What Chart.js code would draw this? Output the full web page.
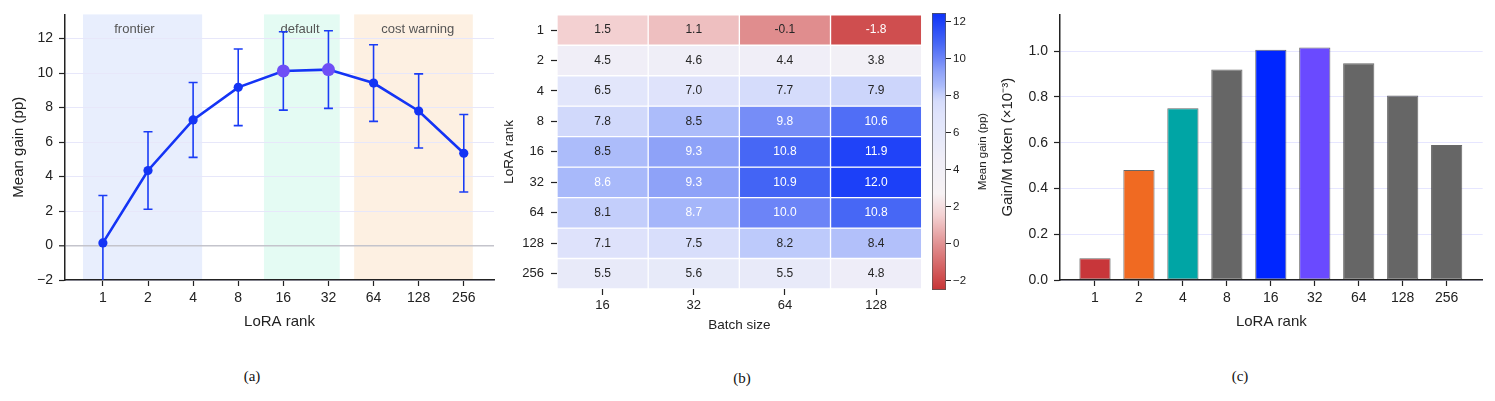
<!DOCTYPE html>
<html>
<head>
<meta charset="utf-8">
<script src="https://cdn.jsdelivr.net/npm/chart.js@4.4.0/dist/chart.umd.min.js"></script>
<style>
  body { margin: 0; background: #fff; width: 1495px; height: 401px; position: relative; overflow: hidden; }
  canvas { position: absolute; top: 0; }
  .cap { position: absolute; top: 368px; font-family: "Liberation Serif", "DejaVu Serif", serif; font-size: 15px; color: #111; transform: translateX(-50%); }
</style>
</head>
<body>
<canvas id="gainChart" width="500" height="345" style="left:0"></canvas>
<canvas id="heatChart" width="440" height="345" style="left:490px"></canvas>
<canvas id="cbarChart" width="70" height="345" style="left:925px"></canvas>
<canvas id="effChart" width="505" height="345" style="left:990px"></canvas>
<div class="cap" style="left:252px">(a)</div>
<div class="cap" style="left:742px;top:370px">(b)</div>
<div class="cap" style="left:1240px">(c)</div>

<script>
// (a) mean gain vs LoRA rank
const rankLabels = ['1', '2', '4', '8', '16', '32', '64', '128', '256'];
const meanGain = [0.15, 4.35, 7.28, 9.17, 10.12, 10.2, 9.42, 7.8, 5.35];
const gainErr = [2.75, 2.25, 2.17, 2.22, 2.27, 2.25, 2.22, 2.15, 2.25];
const highlightRanks = ['16', '32'];
const gainTicks = [-2, 0, 2, 4, 6, 8, 10, 12];

// shaded regions, in rank-index units
const regionNames = ['frontier', 'default', 'cost warning'];
const regionStart = [-0.44, 3.57, 5.57];
const regionEnd = [2.2, 5.25, 8.2];
const regionLabelX = [0.7, 4.37, 6.98];
const regionColors = ['#e8eefd', '#e4fbf3', '#fdf0e2'];

// (b) heatmap: rows = LoRA rank, cols = batch size
const batchSizes = ['16', '32', '64', '128'];
const heatRanks = ['1', '2', '4', '8', '16', '32', '64', '128', '256'];
const heatRows = [
  [1.5, 1.1, -0.1, -1.8],
  [4.5, 4.6, 4.4, 3.8],
  [6.5, 7.0, 7.7, 7.9],
  [7.8, 8.5, 9.8, 10.6],
  [8.5, 9.3, 10.8, 11.9],
  [8.6, 9.3, 10.9, 12.0],
  [8.1, 8.7, 10.0, 10.8],
  [7.1, 7.5, 8.2, 8.4],
  [5.5, 5.6, 5.5, 4.8]
];
const cbarMin = -2.49;
const cbarMax = 12.45;
const cbarTicks = [-2, 0, 2, 4, 6, 8, 10, 12];

// (c) gain per M token
const gainPerMTok = [0.095, 0.481, 0.751, 0.92, 1.007, 1.016, 0.948, 0.806, 0.59];
const effTicks = [0, 0.2, 0.4, 0.6, 0.8, 1.0];
const barColors = ['#c8363a', '#f06a22', '#00a5a5', '#666666', '#0026ff', '#6a4aff', '#666666', '#666666', '#666666'];

const FONT = '"Liberation Sans", Arial, sans-serif';
const INK = '#222';
const GRID = '#e7e7fa';

// red - white - blue colormap, sampled from the figure
const cmapStops = [
  [-2.5, [199, 52, 54]], [-1.8, [207, 78, 79]], [-0.1, [224, 141, 142]],
  [1.1, [238, 191, 192]], [1.5, [243, 208, 209]], [2.7, [247, 242, 244]],
  [3.8, [242, 240, 246]], [4.5, [240, 238, 247]], [5.5, [232, 234, 249]],
  [6.5, [226, 230, 251]], [7.0, [223, 227, 251]], [7.7, [213, 220, 251]],
  [8.1, [195, 206, 251]], [8.5, [172, 188, 250]], [9.3, [142, 162, 248]],
  [10.0, [108, 132, 247]], [10.8, [71, 103, 245]], [12.0, [28, 64, 248]],
  [12.45, [14, 50, 250]]
];
function cmap(v) {
  if (v <= cmapStops[0][0]) return 'rgb(' + cmapStops[0][1].join(',') + ')';
  for (let i = 1; i < cmapStops.length; i++) {
    const [v1, c1] = cmapStops[i];
    const [v0, c0] = cmapStops[i - 1];
    if (v <= v1) {
      const t = (v - v0) / (v1 - v0);
      return 'rgb(' + c0.map((c, k) => Math.round(c + (c1[k] - c) * t)).join(',') + ')';
    }
  }
  return 'rgb(' + cmapStops[cmapStops.length - 1][1].join(',') + ')';
}

Chart.defaults.font.family = FONT;
Chart.defaults.color = INK;

// ---------- (a) ----------
const bandPlugin = {
  id: 'bands',
  beforeDraw(chart) {
    const { ctx, chartArea: a, scales: { x, y } } = chart;
    ctx.save();
    regionNames.forEach((name, i) => {
      const x0 = x.getPixelForValue(regionStart[i]);
      const x1 = x.getPixelForValue(regionEnd[i]);
      ctx.fillStyle = regionColors[i];
      ctx.fillRect(x0, a.top, x1 - x0, a.bottom - a.top);
      ctx.fillStyle = '#555';
      ctx.font = '13px ' + FONT;
      ctx.textAlign = 'center';
      ctx.textBaseline = 'middle';
      ctx.fillText(name, x.getPixelForValue(regionLabelX[i]), y.getPixelForValue(12.55));
    });
    ctx.restore();
  }
};

const errorBarPlugin = {
  id: 'errorBars',
  beforeDatasetsDraw(chart) {
    const { ctx, chartArea: a, scales: { x, y } } = chart;
    ctx.save();
    ctx.beginPath();
    ctx.rect(a.left, a.top, a.right - a.left, a.bottom - a.top);
    ctx.clip();
    ctx.strokeStyle = '#1a3cf5';
    ctx.lineWidth = 1.6;
    meanGain.forEach((m, i) => {
      const px = x.getPixelForValue(i);
      const top = y.getPixelForValue(m + gainErr[i]);
      const bot = y.getPixelForValue(m - gainErr[i]);
      ctx.beginPath();
      ctx.moveTo(px, top); ctx.lineTo(px, bot);
      ctx.moveTo(px - 4.5, top); ctx.lineTo(px + 4.5, top);
      ctx.moveTo(px - 4.5, bot); ctx.lineTo(px + 4.5, bot);
      ctx.stroke();
    });
    ctx.restore();
  }
};

new Chart(document.getElementById('gainChart'), {
  type: 'line',
  data: {
    datasets: [{
      data: meanGain.map((v, i) => ({ x: i, y: v })),
      borderColor: '#1434f5',
      borderWidth: 2.6,
      tension: 0,
      pointRadius: rankLabels.map(r => highlightRanks.includes(r) ? 6.5 : 4.6),
      pointBackgroundColor: rankLabels.map(r => highlightRanks.includes(r) ? '#6e4ff6' : '#1434f5'),
      pointBorderWidth: 0
    }]
  },
  options: {
    responsive: false,
    animation: false,
    events: [],
    layout: { padding: { top: 13, right: 6, left: 0, bottom: 0 } },
    plugins: { legend: { display: false }, tooltip: { enabled: false } },
    scales: {
      x: {
        type: 'linear', min: -0.84, max: 8.67,
        afterBuildTicks: s => { s.ticks = rankLabels.map((_, i) => ({ value: i })); },
        afterFit: s => { s.height = 65; },
        ticks: { callback: v => rankLabels[v], font: { size: 14 }, color: INK, padding: 4, maxRotation: 0 },
        grid: { drawOnChartArea: false, tickLength: 6, tickColor: INK, tickWidth: 1.2 },
        border: { color: INK, width: 1.5 },
        title: { display: true, text: 'LoRA rank', font: { size: 15 }, color: INK, padding: { top: 0, bottom: 14 } }
      },
      y: {
        min: -2, max: 13.4,
        afterBuildTicks: s => { s.ticks = gainTicks.map(v => ({ value: v })); },
        afterFit: s => { s.width = 65; },
        ticks: { callback: v => String(v).replace('-', '\u2212'), font: { size: 14 }, color: INK, padding: 6 },
        grid: {
          color: c => (c.tick && c.tick.value === 0) ? '#c4c4cc' : GRID,
          lineWidth: c => (c.tick && c.tick.value === 0) ? 1.6 : 1,
          tickLength: 6, tickColor: INK, tickWidth: 1.2
        },
        border: { color: INK, width: 1.5 },
        title: { display: true, text: 'Mean gain (pp)', font: { size: 15 }, color: INK, padding: { top: 10, bottom: 0 } }
      }
    }
  },
  plugins: [bandPlugin, errorBarPlugin]
});

// ---------- (b) ----------
const cellTextPlugin = {
  id: 'cellText',
  afterDatasetsDraw(chart) {
    const { ctx } = chart;
    ctx.save();
    ctx.font = '12px ' + FONT;
    ctx.textAlign = 'center';
    ctx.textBaseline = 'middle';
    heatRows.forEach((row, r) => {
      chart.getDatasetMeta(r).data.forEach((bar, c) => {
        const v = row[c];
        ctx.fillStyle = (v > 8.55 || v < -1) ? '#ffffff' : '#262626';
        ctx.fillText(v.toFixed(1), bar.x, (bar.y + bar.base) / 2);
      });
    });
    ctx.restore();
  }
};

new Chart(document.getElementById('heatChart'), {
  type: 'bar',
  data: {
    labels: batchSizes,
    datasets: heatRows.map((row, r) => ({
      label: 'rank ' + heatRanks[r],
      data: row.map(() => 1),
      backgroundColor: row.map(cmap),
      borderColor: '#ffffff',
      borderWidth: 1,
      borderSkipped: false,
      categoryPercentage: 1,
      barPercentage: 1,
      stack: 'cells'
    }))
  },
  options: {
    responsive: false,
    animation: false,
    events: [],
    layout: { padding: { top: 13, right: 8.3, left: 0, bottom: 0 } },
    plugins: { legend: { display: false }, tooltip: { enabled: false } },
    scales: {
      x: {
        stacked: true,
        afterFit: s => { s.height = 56; },
        ticks: { font: { size: 13 }, color: INK, padding: 3 },
        grid: { offset: false, drawOnChartArea: false, tickLength: 6, tickColor: INK, tickWidth: 1.2 },
        border: { display: false },
        title: { display: true, text: 'Batch size', font: { size: 13.5 }, color: INK, padding: { top: 0, bottom: 12 } }
      },
      y: {
        stacked: true, reverse: true, min: 0, max: 9,
        afterBuildTicks: s => { s.ticks = heatRanks.map((_, i) => ({ value: i + 0.5 })); },
        afterFit: s => { s.width = 67; },
        ticks: { callback: v => heatRanks[Math.floor(v)], font: { size: 13 }, color: INK, padding: 7 },
        grid: { drawOnChartArea: false, tickLength: 6, tickColor: INK, tickWidth: 1.2 },
        border: { display: false },
        title: { display: true, text: 'LoRA rank', font: { size: 13.5 }, color: INK, padding: { top: 11, bottom: 0 } }
      }
    }
  },
  plugins: [cellTextPlugin]
});

// colorbar
const cbarTitlePlugin = {
  id: 'cbarTitle',
  afterDraw(chart) {
    const { ctx, chartArea: a } = chart;
    ctx.save();
    ctx.translate(58, (a.top + a.bottom) / 2);
    ctx.rotate(-Math.PI / 2);
    ctx.font = '11.5px ' + FONT;
    ctx.fillStyle = INK;
    ctx.textAlign = 'center';
    ctx.textBaseline = 'middle';
    ctx.fillText('Mean gain (pp)', 0, 0);
    ctx.restore();
  }
};

new Chart(document.getElementById('cbarChart'), {
  type: 'bar',
  data: {
    labels: [''],
    datasets: [{
      data: [[cbarMin, cbarMax]],
      backgroundColor: c => {
        const chart = c.chart;
        const ys = chart.scales.y;
        if (!chart.chartArea || !ys) return '#ccc';
        const g = chart.ctx.createLinearGradient(0, ys.getPixelForValue(cbarMin), 0, ys.getPixelForValue(cbarMax));
        cmapStops.forEach(([v]) => {
          g.addColorStop(Math.min(1, Math.max(0, (v - cbarMin) / (cbarMax - cbarMin))), cmap(v));
        });
        return g;
      },
      borderColor: '#555',
      borderWidth: 1,
      borderSkipped: false,
      categoryPercentage: 1,
      barPercentage: 1
    }]
  },
  options: {
    responsive: false,
    animation: false,
    events: [],
    layout: { padding: { top: 13, left: 7, right: 0, bottom: 55 } },
    plugins: { legend: { display: false }, tooltip: { enabled: false } },
    scales: {
      x: { display: false },
      y: {
        position: 'right', min: cbarMin, max: cbarMax,
        afterBuildTicks: s => { s.ticks = cbarTicks.map(v => ({ value: v })); },
        afterFit: s => { s.width = 49; },
        ticks: { callback: v => String(v).replace('-', '\u2212'), font: { size: 11.5 }, color: INK, padding: 2 },
        grid: { drawOnChartArea: false, tickLength: 5, tickColor: INK, tickWidth: 1 },
        border: { display: false }
      }
    }
  },
  plugins: [cbarTitlePlugin]
});

// ---------- (c) ----------
new Chart(document.getElementById('effChart'), {
  type: 'bar',
  data: {
    datasets: [{
      data: gainPerMTok.map((v, i) => ({ x: i, y: v })),
      backgroundColor: barColors,
      borderColor: 'rgba(40,40,40,0.7)',
      borderWidth: 1,
      borderSkipped: false,
      categoryPercentage: 1,
      barPercentage: 0.71
    }]
  },
  options: {
    responsive: false,
    animation: false,
    events: [],
    layout: { padding: { top: 13, right: 12.3, left: 0, bottom: 0 } },
    plugins: { legend: { display: false }, tooltip: { enabled: false } },
    scales: {
      x: {
        type: 'linear', min: -0.796, max: 8.82, z: 2, offset: false,
        afterBuildTicks: s => { s.ticks = rankLabels.map((_, i) => ({ value: i })); },
        afterFit: s => { s.height = 65; },
        ticks: { callback: v => rankLabels[v], font: { size: 14 }, color: INK, padding: 4, maxRotation: 0 },
        grid: { offset: false, drawOnChartArea: false, tickLength: 6, tickColor: INK, tickWidth: 1.2 },
        border: { color: INK, width: 1.5 },
        title: { display: true, text: 'LoRA rank', font: { size: 15 }, color: INK, padding: { top: 0, bottom: 14 } }
      },
      y: {
        min: 0, max: 1.161, z: 1,
        afterBuildTicks: s => { s.ticks = effTicks.map(v => ({ value: v })); },
        afterFit: s => { s.width = 70; },
        ticks: { callback: v => v.toFixed(1), font: { size: 14 }, color: INK, padding: 6 },
        grid: { color: 'rgba(214,214,255,0.6)', tickLength: 6, tickColor: INK, tickWidth: 1.2 },
        border: { color: INK, width: 1.5 },
        title: { display: true, text: 'Gain/M token (\u00d710\u207b\u00b3)', font: { size: 15 }, color: INK, padding: { top: 9, bottom: 0 } }
      }
    }
  }
});
</script>
</body>
</html>
